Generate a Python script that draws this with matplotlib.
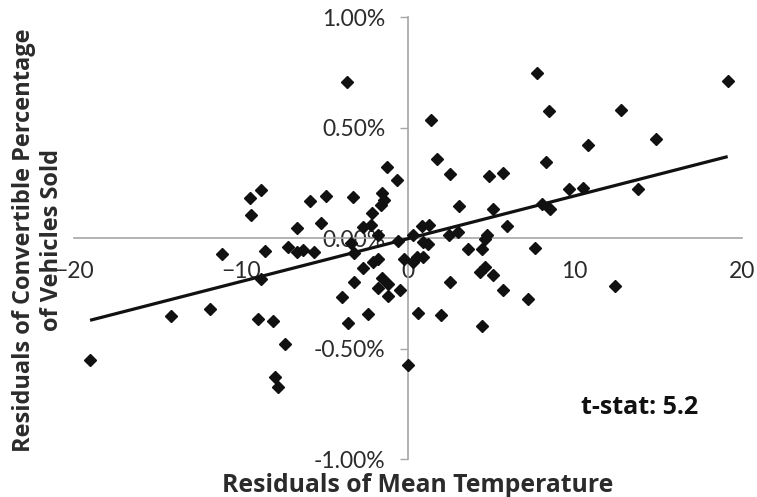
import numpy as np
import matplotlib.pyplot as plt
from matplotlib.ticker import FuncFormatter

# -----------------------------------------------------------------------
# Data (x: residual temp, y: residual share in %)
# -----------------------------------------------------------------------
resid_temp = [
    -9.44, -8.78, -9.38, -6.63, -11.12, -8.54, -7.17, -6.60, -19.02, -14.17,
    -11.83, -8.78, -8.96, -8.06, -7.35, -7.95, -7.77, -3.62, 1.40, 1.74,
    2.53, 4.87, 5.69, 3.09, 5.09, 5.93, 4.75, 4.63, -1.22, -0.66,
    -5.85, -4.91, -3.29, -1.56, -1.42, -1.60, -2.16, -5.21, -2.68, -2.22,
    -1.75, -0.56, 0.30, 0.84, 1.29, 2.47, 3.03, -6.25, -5.62, -3.22,
    -3.40, -2.66, -2.08, -1.78, -3.22, -1.56, -1.19, -1.75, -1.16, -0.49,
    -3.95, -2.36, -3.56, 0.00, -0.22, 0.34, 0.53, 0.92, 0.90, 1.23,
    2.53, 0.63, 1.99, 3.63, 4.43, 4.30, 4.60, 5.08, 5.69, 7.20,
    4.47, 7.72, 19.16, 8.48, 12.75, 14.87, 10.78, 8.26, 9.66, 10.48,
    13.81, 8.04, 8.52, 7.62, 12.41,
]
resid_conv = [
    0.182, 0.218, 0.106, 0.045, -0.071, -0.057, -0.039, -0.064, -0.551, -0.352,
    -0.320, -0.184, -0.365, -0.374, -0.478, -0.628, -0.673, 0.706, 0.535, 0.357,
    0.290, 0.283, 0.294, 0.146, 0.133, 0.057, 0.017, -0.003, 0.321, 0.264,
    0.170, 0.191, 0.186, 0.206, 0.173, 0.151, 0.113, 0.068, 0.052, 0.060,
    0.013, -0.012, 0.014, 0.056, 0.059, 0.017, 0.030, -0.053, -0.061, -0.068,
    -0.021, -0.136, -0.106, -0.095, -0.199, -0.181, -0.208, -0.226, -0.259, -0.234,
    -0.267, -0.343, -0.382, -0.573, -0.095, -0.106, -0.085, -0.083, -0.015, -0.027,
    -0.196, -0.337, -0.347, -0.048, -0.048, -0.152, -0.129, -0.167, -0.236, -0.276,
    -0.395, 0.747, 0.713, 0.577, 0.581, 0.449, 0.422, 0.347, 0.223, 0.229,
    0.222, 0.155, 0.133, -0.045, -0.216,
]

# trendline (in %)
trend_slope = 0.0194
trend_intercept = -0.002

x_ticks = [-20, -10, 0, 10, 20]
y_ticks = [-1.0, -0.5, 0.0, 0.5, 1.0]

# -----------------------------------------------------------------------
# Plot
# -----------------------------------------------------------------------
plt.rcParams['font.family'] = ['Lato', 'DejaVu Sans']
title_font = ['Open Sans', 'DejaVu Sans']

W, H = 757, 497
fig = plt.figure(figsize=(W / 100, H / 100), dpi=100)
ax = fig.add_axes([73.7 / W, 37.7 / H, 668 / W, 442 / H])

x = np.array(resid_temp)
y = np.array(resid_conv)
ax.plot(x, y, linestyle='none', marker='D', markersize=6.5,
        color='#111111', zorder=3)

tx = np.array([x.min(), x.max()])
ax.plot(tx, trend_intercept + trend_slope * tx, color='#111111',
        lw=2.3, solid_capstyle='butt', zorder=4)

ax.set_xlim(-20, 20)
ax.set_ylim(-1.0, 1.0)
ax.set_xticks(x_ticks)
ax.set_yticks(y_ticks)
ax.yaxis.set_major_formatter(FuncFormatter(lambda v, p: f'{v:.2f}%'))

for side in ['top', 'right']:
    ax.spines[side].set_visible(False)
ax.spines['left'].set_position(('data', 0))
ax.spines['bottom'].set_position(('data', 0))
for side in ['left', 'bottom']:
    ax.spines[side].set_color('#A6A6A6')
    ax.spines[side].set_linewidth(1.2)

ax.tick_params(axis='y', direction='out', length=6, width=1.0,
               color='#A6A6A6', pad=10, labelsize=16.5, labelcolor='#2b2b2b')
ax.tick_params(axis='x', length=0, pad=16, labelsize=16.5, labelcolor='#2b2b2b')
ax.patch.set_alpha(0)

fig.text(418 / W, 1 - 485 / H, 'Residuals of Mean Temperature',
         ha='center', va='center', fontsize=17.8, fontweight='bold',
         color='#2b2b2b', family=title_font)
fig.text(38 / W, 1 - 240 / H,
         'Residuals of Convertible Percentage\nof Vehicles Sold',
         ha='center', va='center', rotation=90, multialignment='center',
         fontsize=17, fontweight='bold', color='#2b2b2b', linespacing=1.2,
         family=title_font)
fig.text(640 / W, 1 - 408 / H, 't-stat: 5.2', ha='center', va='center',
         fontsize=18, fontweight='bold', color='#111111', family=title_font)

fig.savefig('out.png', dpi=100)
